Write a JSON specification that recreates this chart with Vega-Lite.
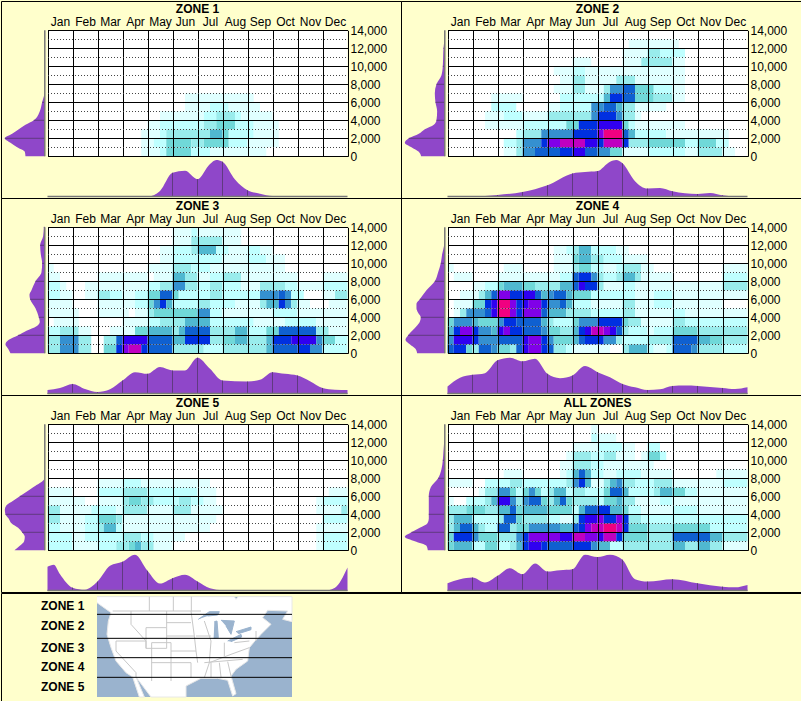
{"$schema":"https://vega.github.io/schema/vega-lite/v6.json","background":"#FFFFCC","padding":0,"spacing":-2,"config":{"view":{"stroke":"#000","strokeWidth":1},"font":"Liberation Sans","axis":{"labelFont":"Liberation Sans","labelFontSize":12,"labelColor":"#000"},"header":{"labels":false,"title":null,"labelFontSize":0,"labelPadding":0,"titlePadding":0,"labelExpr":"''"},"facet":{"spacing":0}},
"datasets":{"zones":[
{"z":1,"t":"ZONE 1"},{"z":2,"t":"ZONE 2"},{"z":3,"t":"ZONE 3"},{"z":4,"t":"ZONE 4"},{"z":5,"t":"ZONE 5"},{"z":6,"t":"ALL ZONES"},
{"z":1,"a":3.75,"b":4.5,"c":500,"v":1},{"z":1,"a":4.5,"b":4.75,"c":500,"v":2},{"z":1,"a":4.75,"b":5.75,"c":500,"v":4},{"z":1,"a":5.75,"b":6.5,"c":500,"v":2},{"z":1,"a":6.5,"b":8.75,"c":500,"v":1},
{"z":1,"a":3.75,"b":4.25,"c":1500,"v":1},{"z":1,"a":4.25,"b":4.75,"c":1500,"v":2},{"z":1,"a":4.75,"b":5.75,"c":1500,"v":4},{"z":1,"a":5.75,"b":6.25,"c":1500,"v":3},{"z":1,"a":6.25,"b":7.25,"c":1500,"v":4},{"z":1,"a":7.25,"b":8,"c":1500,"v":2},{"z":1,"a":8,"b":9.25,"c":1500,"v":1},
{"z":1,"a":3.75,"b":4.5,"c":2500,"v":1},{"z":1,"a":4.5,"b":4.75,"c":2500,"v":2},{"z":1,"a":4.75,"b":6.5,"c":2500,"v":3},{"z":1,"a":6.5,"b":7,"c":2500,"v":5},{"z":1,"a":7,"b":7.25,"c":2500,"v":4},{"z":1,"a":7.25,"b":8.25,"c":2500,"v":2},{"z":1,"a":8.25,"b":9.25,"c":2500,"v":1},
{"z":1,"a":4,"b":4.5,"c":3500,"v":1},{"z":1,"a":4.5,"b":6.25,"c":3500,"v":2},{"z":1,"a":6.25,"b":6.75,"c":3500,"v":3},{"z":1,"a":6.75,"b":7.5,"c":3500,"v":4},{"z":1,"a":7.5,"b":8.25,"c":3500,"v":2},{"z":1,"a":8.25,"b":9.25,"c":3500,"v":1},
{"z":1,"a":4.5,"b":6.25,"c":4500,"v":1},{"z":1,"a":6.25,"b":6.75,"c":4500,"v":2},{"z":1,"a":6.75,"b":7.5,"c":4500,"v":3},{"z":1,"a":7.5,"b":7.75,"c":4500,"v":2},{"z":1,"a":7.75,"b":9,"c":4500,"v":1},
{"z":1,"a":5.5,"b":6.5,"c":5500,"v":1},{"z":1,"a":6.5,"b":7.25,"c":5500,"v":2},{"z":1,"a":7.25,"b":8.5,"c":5500,"v":1},{"z":1,"a":5.5,"b":8.25,"c":6500,"v":1},
{"z":2,"a":2.25,"b":2.75,"c":500,"v":1},{"z":2,"a":2.75,"b":3,"c":500,"v":3},{"z":2,"a":3,"b":3.5,"c":500,"v":6},{"z":2,"a":3.5,"b":4.5,"c":500,"v":7},{"z":2,"a":4.5,"b":5,"c":500,"v":8},{"z":2,"a":5,"b":5.5,"c":500,"v":9},{"z":2,"a":5.5,"b":6,"c":500,"v":7},{"z":2,"a":6,"b":6.5,"c":500,"v":6},{"z":2,"a":6.5,"b":7,"c":500,"v":4},{"z":2,"a":7,"b":8,"c":500,"v":1},{"z":2,"a":8,"b":9.5,"c":500,"v":2},{"z":2,"a":9.5,"b":10,"c":500,"v":1},{"z":2,"a":10,"b":11,"c":500,"v":3},{"z":2,"a":11,"b":11.5,"c":500,"v":1},
{"z":2,"a":2.25,"b":2.75,"c":1500,"v":2},{"z":2,"a":2.75,"b":3,"c":1500,"v":3},{"z":2,"a":3,"b":3.75,"c":1500,"v":6},{"z":2,"a":3.75,"b":4,"c":1500,"v":8},{"z":2,"a":4,"b":4.5,"c":1500,"v":10},{"z":2,"a":4.5,"b":5.5,"c":1500,"v":11},{"z":2,"a":5.5,"b":6,"c":1500,"v":9},{"z":2,"a":6,"b":6.25,"c":1500,"v":8},{"z":2,"a":6.25,"b":7,"c":1500,"v":11},{"z":2,"a":7,"b":7.25,"c":1500,"v":8},{"z":2,"a":7.25,"b":8,"c":1500,"v":3},{"z":2,"a":8,"b":9.5,"c":1500,"v":4},{"z":2,"a":9.5,"b":10,"c":1500,"v":2},{"z":2,"a":10,"b":10.75,"c":1500,"v":4},{"z":2,"a":10.75,"b":11.25,"c":1500,"v":2},
{"z":2,"a":2.75,"b":3,"c":2500,"v":2},{"z":2,"a":3,"b":3.75,"c":2500,"v":3},{"z":2,"a":3.75,"b":5,"c":2500,"v":6},{"z":2,"a":5,"b":6,"c":2500,"v":8},{"z":2,"a":6,"b":6.25,"c":2500,"v":10},{"z":2,"a":6.25,"b":7,"c":2500,"v":12},{"z":2,"a":7,"b":7.25,"c":2500,"v":7},{"z":2,"a":7.25,"b":7.5,"c":2500,"v":5},{"z":2,"a":7.5,"b":8.75,"c":2500,"v":2},{"z":2,"a":8.75,"b":11.25,"c":2500,"v":1},
{"z":2,"a":1.5,"b":3,"c":3500,"v":1},{"z":2,"a":3,"b":4.75,"c":3500,"v":2},{"z":2,"a":4.75,"b":5.25,"c":3500,"v":4},{"z":2,"a":5.25,"b":6,"c":3500,"v":8},{"z":2,"a":6,"b":7,"c":3500,"v":9},{"z":2,"a":7,"b":7.25,"c":3500,"v":4},{"z":2,"a":7.25,"b":7.5,"c":3500,"v":2},{"z":2,"a":7.5,"b":9.5,"c":3500,"v":1},
{"z":2,"a":1.5,"b":2.25,"c":4500,"v":1},{"z":2,"a":2.25,"b":3,"c":4500,"v":2},{"z":2,"a":3,"b":4,"c":4500,"v":1},{"z":2,"a":4,"b":5.75,"c":4500,"v":3},{"z":2,"a":5.75,"b":6,"c":4500,"v":6},{"z":2,"a":6,"b":6.75,"c":4500,"v":8},{"z":2,"a":6.75,"b":7,"c":4500,"v":6},{"z":2,"a":7,"b":7.5,"c":4500,"v":3},{"z":2,"a":7.5,"b":7.75,"c":4500,"v":1},
{"z":2,"a":1.75,"b":2.75,"c":5500,"v":2},{"z":2,"a":4,"b":4.5,"c":5500,"v":1},{"z":2,"a":4.5,"b":5.75,"c":5500,"v":2},{"z":2,"a":5.75,"b":6.25,"c":5500,"v":6},{"z":2,"a":6.25,"b":6.75,"c":5500,"v":7},{"z":2,"a":6.75,"b":7,"c":5500,"v":5},{"z":2,"a":7,"b":7.5,"c":5500,"v":3},{"z":2,"a":7.5,"b":8.75,"c":5500,"v":1},
{"z":2,"a":1.75,"b":3,"c":6500,"v":1},{"z":2,"a":4.5,"b":6.25,"c":6500,"v":2},{"z":2,"a":6.25,"b":6.5,"c":6500,"v":5},{"z":2,"a":6.5,"b":7,"c":6500,"v":8},{"z":2,"a":7,"b":7.5,"c":6500,"v":7},{"z":2,"a":7.5,"b":8.25,"c":6500,"v":4},{"z":2,"a":8.25,"b":9,"c":6500,"v":3},{"z":2,"a":9,"b":9.5,"c":6500,"v":1},
{"z":2,"a":4.25,"b":5,"c":7500,"v":1},{"z":2,"a":5,"b":5.5,"c":7500,"v":3},{"z":2,"a":5.5,"b":6.25,"c":7500,"v":1},{"z":2,"a":6.25,"b":6.5,"c":7500,"v":3},{"z":2,"a":6.5,"b":7,"c":7500,"v":6},{"z":2,"a":7,"b":7.5,"c":7500,"v":7},{"z":2,"a":7.5,"b":8.25,"c":7500,"v":4},{"z":2,"a":8.25,"b":9,"c":7500,"v":2},{"z":2,"a":9,"b":9.5,"c":7500,"v":1},
{"z":2,"a":4.5,"b":5,"c":8500,"v":1},{"z":2,"a":5,"b":5.5,"c":8500,"v":3},{"z":2,"a":5.5,"b":6.75,"c":8500,"v":1},{"z":2,"a":6.75,"b":7.5,"c":8500,"v":3},{"z":2,"a":7.5,"b":9.5,"c":8500,"v":1},
{"z":2,"a":4.25,"b":5,"c":9500,"v":1},{"z":2,"a":5,"b":5.5,"c":9500,"v":2},{"z":2,"a":5.5,"b":9.5,"c":9500,"v":1},
{"z":2,"a":5,"b":5.75,"c":10500,"v":1},{"z":2,"a":7,"b":7.75,"c":10500,"v":1},{"z":2,"a":7.75,"b":9,"c":10500,"v":3},{"z":2,"a":9,"b":9.5,"c":10500,"v":1},
{"z":2,"a":7,"b":8,"c":11500,"v":1},{"z":2,"a":8,"b":8.5,"c":11500,"v":3},{"z":2,"a":8.5,"b":9.5,"c":11500,"v":2},{"z":2,"a":7.25,"b":9.25,"c":12500,"v":1},
{"z":3,"a":0,"b":0.5,"c":500,"v":3},{"z":3,"a":0.5,"b":1.25,"c":500,"v":6},{"z":3,"a":1.25,"b":1.75,"c":500,"v":3},{"z":3,"a":2.25,"b":2.75,"c":500,"v":4},{"z":3,"a":2.75,"b":3,"c":500,"v":8},{"z":3,"a":3,"b":3.25,"c":500,"v":10},{"z":3,"a":3.25,"b":3.75,"c":500,"v":11},{"z":3,"a":3.75,"b":4,"c":500,"v":8},{"z":3,"a":4,"b":5,"c":500,"v":7},{"z":3,"a":5,"b":6.25,"c":500,"v":3},{"z":3,"a":6.25,"b":7,"c":500,"v":2},{"z":3,"a":7,"b":8.75,"c":500,"v":3},{"z":3,"a":8.75,"b":9,"c":500,"v":5},{"z":3,"a":9,"b":10,"c":500,"v":7},{"z":3,"a":10,"b":10.5,"c":500,"v":8},{"z":3,"a":10.5,"b":11,"c":500,"v":6},{"z":3,"a":11,"b":12,"c":500,"v":2},
{"z":3,"a":0,"b":0.5,"c":1500,"v":3},{"z":3,"a":0.5,"b":1.25,"c":1500,"v":6},{"z":3,"a":1.25,"b":1.75,"c":1500,"v":3},{"z":3,"a":2.25,"b":2.75,"c":1500,"v":3},{"z":3,"a":2.75,"b":3,"c":1500,"v":7},{"z":3,"a":3,"b":4,"c":1500,"v":9},{"z":3,"a":4,"b":5,"c":1500,"v":7},{"z":3,"a":5,"b":5.5,"c":1500,"v":5},{"z":3,"a":5.5,"b":6.5,"c":1500,"v":8},{"z":3,"a":6.5,"b":7,"c":1500,"v":3},{"z":3,"a":7,"b":7.5,"c":1500,"v":4},{"z":3,"a":7.5,"b":8,"c":1500,"v":5},{"z":3,"a":8,"b":8.75,"c":1500,"v":3},{"z":3,"a":8.75,"b":9,"c":1500,"v":5},{"z":3,"a":9,"b":9.75,"c":1500,"v":8},{"z":3,"a":9.75,"b":10.75,"c":1500,"v":9},{"z":3,"a":10.75,"b":11,"c":1500,"v":6},{"z":3,"a":11,"b":11.5,"c":1500,"v":4},{"z":3,"a":11.5,"b":12,"c":1500,"v":2},
{"z":3,"a":0,"b":0.5,"c":2500,"v":2},{"z":3,"a":0.5,"b":1.25,"c":2500,"v":3},{"z":3,"a":1.25,"b":1.75,"c":2500,"v":1},{"z":3,"a":2.5,"b":3.5,"c":2500,"v":1},{"z":3,"a":3.5,"b":4,"c":2500,"v":4},{"z":3,"a":4,"b":5,"c":2500,"v":5},{"z":3,"a":5,"b":5.25,"c":2500,"v":3},{"z":3,"a":5.25,"b":5.5,"c":2500,"v":5},{"z":3,"a":5.5,"b":6.5,"c":2500,"v":7},{"z":3,"a":6.5,"b":7.5,"c":2500,"v":3},{"z":3,"a":7.5,"b":8,"c":2500,"v":5},{"z":3,"a":8,"b":8.75,"c":2500,"v":2},{"z":3,"a":8.75,"b":9.25,"c":2500,"v":4},{"z":3,"a":9.25,"b":10.75,"c":2500,"v":7},{"z":3,"a":10.75,"b":11.25,"c":2500,"v":3},{"z":3,"a":11.25,"b":12,"c":2500,"v":1},
{"z":3,"a":0.25,"b":1.25,"c":3500,"v":1},{"z":3,"a":3,"b":4,"c":3500,"v":1},{"z":3,"a":4,"b":4.5,"c":3500,"v":2},{"z":3,"a":4.5,"b":5.5,"c":3500,"v":3},{"z":3,"a":5.5,"b":6.5,"c":3500,"v":5},{"z":3,"a":6.5,"b":8.25,"c":3500,"v":2},{"z":3,"a":8.25,"b":9.5,"c":3500,"v":1},{"z":3,"a":9.5,"b":10.75,"c":3500,"v":2},{"z":3,"a":10.75,"b":12,"c":3500,"v":1},
{"z":3,"a":0,"b":1.25,"c":4500,"v":1},{"z":3,"a":2,"b":3.25,"c":4500,"v":1},{"z":3,"a":3.5,"b":4,"c":4500,"v":1},{"z":3,"a":4,"b":4.25,"c":4500,"v":3},{"z":3,"a":4.25,"b":6,"c":4500,"v":4},{"z":3,"a":6,"b":6.5,"c":4500,"v":6},{"z":3,"a":6.5,"b":7,"c":4500,"v":2},{"z":3,"a":7,"b":9,"c":4500,"v":1},{"z":3,"a":9,"b":10,"c":4500,"v":2},{"z":3,"a":10,"b":12,"c":4500,"v":1},
{"z":3,"a":0,"b":1,"c":5500,"v":1},{"z":3,"a":2,"b":3.5,"c":5500,"v":1},{"z":3,"a":3.5,"b":4,"c":5500,"v":2},{"z":3,"a":4,"b":4.25,"c":5500,"v":4},{"z":3,"a":4.25,"b":4.5,"c":5500,"v":6},{"z":3,"a":4.5,"b":4.75,"c":5500,"v":8},{"z":3,"a":4.75,"b":5,"c":5500,"v":5},{"z":3,"a":5,"b":6,"c":5500,"v":2},{"z":3,"a":6,"b":6.5,"c":5500,"v":3},{"z":3,"a":6.5,"b":7.5,"c":5500,"v":2},{"z":3,"a":7.5,"b":8.5,"c":5500,"v":1},{"z":3,"a":8.5,"b":8.75,"c":5500,"v":3},{"z":3,"a":8.75,"b":9.25,"c":5500,"v":5},{"z":3,"a":9.25,"b":9.5,"c":5500,"v":8},{"z":3,"a":9.5,"b":9.75,"c":5500,"v":6},{"z":3,"a":9.75,"b":10,"c":5500,"v":3},{"z":3,"a":10,"b":10.5,"c":5500,"v":1},{"z":3,"a":11.25,"b":12,"c":5500,"v":1},
{"z":3,"a":0,"b":0.5,"c":6500,"v":2},{"z":3,"a":0.5,"b":1,"c":6500,"v":1},{"z":3,"a":1.5,"b":2,"c":6500,"v":1},{"z":3,"a":2,"b":2.5,"c":6500,"v":3},{"z":3,"a":2.5,"b":3,"c":6500,"v":2},{"z":3,"a":3,"b":3.5,"c":6500,"v":1},{"z":3,"a":3.5,"b":4,"c":6500,"v":2},{"z":3,"a":4,"b":4.5,"c":6500,"v":4},{"z":3,"a":4.5,"b":5,"c":6500,"v":7},{"z":3,"a":5,"b":5.25,"c":6500,"v":4},{"z":3,"a":5.25,"b":6.5,"c":6500,"v":2},{"z":3,"a":6.5,"b":7,"c":6500,"v":3},{"z":3,"a":7,"b":8.5,"c":6500,"v":2},{"z":3,"a":8.5,"b":9.25,"c":6500,"v":6},{"z":3,"a":9.25,"b":9.5,"c":6500,"v":7},{"z":3,"a":9.5,"b":9.75,"c":6500,"v":6},{"z":3,"a":9.75,"b":10.25,"c":6500,"v":2},{"z":3,"a":11,"b":11.5,"c":6500,"v":1},{"z":3,"a":11.5,"b":12,"c":6500,"v":3},
{"z":3,"a":0,"b":0.5,"c":7500,"v":2},{"z":3,"a":0.5,"b":0.75,"c":7500,"v":1},{"z":3,"a":1.5,"b":4,"c":7500,"v":1},{"z":3,"a":4,"b":4.5,"c":7500,"v":2},{"z":3,"a":4.5,"b":5,"c":7500,"v":3},{"z":3,"a":5,"b":5.5,"c":7500,"v":6},{"z":3,"a":5.5,"b":6,"c":7500,"v":3},{"z":3,"a":6,"b":6.5,"c":7500,"v":2},{"z":3,"a":6.5,"b":7,"c":7500,"v":3},{"z":3,"a":7,"b":7.75,"c":7500,"v":2},{"z":3,"a":7.75,"b":8.5,"c":7500,"v":1},{"z":3,"a":8.5,"b":9.5,"c":7500,"v":3},{"z":3,"a":9.5,"b":10,"c":7500,"v":2},{"z":3,"a":10,"b":11,"c":7500,"v":1},{"z":3,"a":11,"b":12,"c":7500,"v":2},
{"z":3,"a":0,"b":0.5,"c":8500,"v":1},{"z":3,"a":2,"b":4,"c":8500,"v":1},{"z":3,"a":4.25,"b":5,"c":8500,"v":1},{"z":3,"a":5,"b":5.5,"c":8500,"v":5},{"z":3,"a":5.5,"b":6,"c":8500,"v":3},{"z":3,"a":6,"b":6.5,"c":8500,"v":1},{"z":3,"a":6.5,"b":7,"c":8500,"v":2},{"z":3,"a":7,"b":7.75,"c":8500,"v":3},{"z":3,"a":7.75,"b":10,"c":8500,"v":1},{"z":3,"a":11,"b":12,"c":8500,"v":1},
{"z":3,"a":0,"b":0.25,"c":9500,"v":1},{"z":3,"a":4,"b":5,"c":9500,"v":1},{"z":3,"a":5,"b":5.75,"c":9500,"v":3},{"z":3,"a":5.75,"b":6.5,"c":9500,"v":2},{"z":3,"a":6.5,"b":9.5,"c":9500,"v":1},
{"z":3,"a":4.5,"b":5,"c":10500,"v":1},{"z":3,"a":5,"b":7,"c":10500,"v":2},{"z":3,"a":7,"b":8,"c":10500,"v":1},{"z":3,"a":8,"b":8.75,"c":10500,"v":2},{"z":3,"a":8.75,"b":9.5,"c":10500,"v":1},
{"z":3,"a":4.5,"b":5,"c":11500,"v":1},{"z":3,"a":5,"b":5.75,"c":11500,"v":2},{"z":3,"a":5.75,"b":6,"c":11500,"v":3},{"z":3,"a":6,"b":6.75,"c":11500,"v":5},{"z":3,"a":6.75,"b":7.25,"c":11500,"v":2},{"z":3,"a":7.25,"b":8,"c":11500,"v":1},{"z":3,"a":8,"b":8.5,"c":11500,"v":2},{"z":3,"a":8.5,"b":9,"c":11500,"v":1},
{"z":3,"a":5,"b":5.75,"c":12500,"v":1},{"z":3,"a":5.75,"b":7,"c":12500,"v":3},{"z":3,"a":7,"b":7.75,"c":12500,"v":1},
{"z":3,"a":5,"b":5.75,"c":13500,"v":1},{"z":3,"a":5.75,"b":6,"c":13500,"v":2},{"z":3,"a":6,"b":7.75,"c":13500,"v":1},
{"z":4,"a":0,"b":0.25,"c":500,"v":7},{"z":4,"a":0.25,"b":0.75,"c":500,"v":8},{"z":4,"a":0.75,"b":1,"c":500,"v":4},{"z":4,"a":1,"b":1.25,"c":500,"v":3},{"z":4,"a":1.25,"b":1.75,"c":500,"v":7},{"z":4,"a":1.75,"b":2,"c":500,"v":6},{"z":4,"a":2,"b":2.5,"c":500,"v":4},{"z":4,"a":2.5,"b":2.75,"c":500,"v":3},{"z":4,"a":2.75,"b":3,"c":500,"v":7},{"z":4,"a":3,"b":3.25,"c":500,"v":9},{"z":4,"a":3.25,"b":3.75,"c":500,"v":10},{"z":4,"a":3.75,"b":4,"c":500,"v":8},{"z":4,"a":4,"b":4.25,"c":500,"v":7},{"z":4,"a":4.25,"b":4.75,"c":500,"v":3},{"z":4,"a":4.75,"b":5,"c":500,"v":2},{"z":4,"a":5,"b":6.5,"c":500,"v":1},{"z":4,"a":7,"b":7.25,"c":500,"v":3},{"z":4,"a":7.25,"b":8,"c":500,"v":5},{"z":4,"a":8,"b":8.25,"c":500,"v":2},{"z":4,"a":8.25,"b":8.75,"c":500,"v":1},{"z":4,"a":8.75,"b":9,"c":500,"v":2},{"z":4,"a":9,"b":9.75,"c":500,"v":7},{"z":4,"a":9.75,"b":10,"c":500,"v":6},{"z":4,"a":10,"b":11,"c":500,"v":3},{"z":4,"a":11,"b":12,"c":500,"v":2},
{"z":4,"a":0,"b":0.25,"c":1500,"v":6},{"z":4,"a":0.25,"b":1,"c":1500,"v":9},{"z":4,"a":1,"b":1.25,"c":1500,"v":8},{"z":4,"a":1.25,"b":2,"c":1500,"v":6},{"z":4,"a":2,"b":3,"c":1500,"v":7},{"z":4,"a":3,"b":3.25,"c":1500,"v":9},{"z":4,"a":3.25,"b":3.75,"c":1500,"v":10},{"z":4,"a":3.75,"b":4,"c":1500,"v":8},{"z":4,"a":4,"b":4.25,"c":1500,"v":6},{"z":4,"a":4.25,"b":5,"c":1500,"v":4},{"z":4,"a":5,"b":5.25,"c":1500,"v":5},{"z":4,"a":5.25,"b":5.5,"c":1500,"v":7},{"z":4,"a":5.5,"b":6.25,"c":1500,"v":8},{"z":4,"a":6.25,"b":6.75,"c":1500,"v":6},{"z":4,"a":6.75,"b":7,"c":1500,"v":3},{"z":4,"a":7,"b":8,"c":1500,"v":2},{"z":4,"a":8,"b":9,"c":1500,"v":3},{"z":4,"a":9,"b":10,"c":1500,"v":7},{"z":4,"a":10,"b":10.5,"c":1500,"v":5},{"z":4,"a":10.5,"b":11,"c":1500,"v":4},{"z":4,"a":11,"b":12,"c":1500,"v":3},
{"z":4,"a":0,"b":0.25,"c":2500,"v":5},{"z":4,"a":0.25,"b":0.5,"c":2500,"v":8},{"z":4,"a":0.5,"b":1,"c":2500,"v":10},{"z":4,"a":1,"b":1.25,"c":2500,"v":8},{"z":4,"a":1.25,"b":1.75,"c":2500,"v":6},{"z":4,"a":1.75,"b":2,"c":2500,"v":5},{"z":4,"a":2,"b":2.25,"c":2500,"v":9},{"z":4,"a":2.25,"b":2.5,"c":2500,"v":10},{"z":4,"a":2.5,"b":3,"c":2500,"v":8},{"z":4,"a":3,"b":3.75,"c":2500,"v":7},{"z":4,"a":3.75,"b":4,"c":2500,"v":6},{"z":4,"a":4,"b":4.5,"c":2500,"v":4},{"z":4,"a":4.5,"b":5,"c":2500,"v":3},{"z":4,"a":5,"b":5.25,"c":2500,"v":5},{"z":4,"a":5.25,"b":5.5,"c":2500,"v":8},{"z":4,"a":5.5,"b":5.75,"c":2500,"v":9},{"z":4,"a":5.75,"b":6.25,"c":2500,"v":11},{"z":4,"a":6.25,"b":6.5,"c":2500,"v":10},{"z":4,"a":6.5,"b":6.75,"c":2500,"v":9},{"z":4,"a":6.75,"b":7,"c":2500,"v":7},{"z":4,"a":7,"b":7.25,"c":2500,"v":3},{"z":4,"a":7.25,"b":8,"c":2500,"v":2},{"z":4,"a":8,"b":8.25,"c":2500,"v":1},{"z":4,"a":8.25,"b":9,"c":2500,"v":2},{"z":4,"a":9,"b":10,"c":2500,"v":4},{"z":4,"a":10,"b":12,"c":2500,"v":3},
{"z":4,"a":0,"b":0.25,"c":3500,"v":4},{"z":4,"a":0.25,"b":1,"c":3500,"v":6},{"z":4,"a":1,"b":1.25,"c":3500,"v":5},{"z":4,"a":1.25,"b":2,"c":3500,"v":4},{"z":4,"a":2,"b":2.25,"c":3500,"v":6},{"z":4,"a":2.25,"b":2.75,"c":3500,"v":8},{"z":4,"a":2.75,"b":3.75,"c":3500,"v":7},{"z":4,"a":3.75,"b":4,"c":3500,"v":5},{"z":4,"a":4,"b":4.25,"c":3500,"v":3},{"z":4,"a":4.25,"b":5,"c":3500,"v":2},{"z":4,"a":5,"b":5.25,"c":3500,"v":4},{"z":4,"a":5.25,"b":6,"c":3500,"v":6},{"z":4,"a":6,"b":7,"c":3500,"v":8},{"z":4,"a":7,"b":7.25,"c":3500,"v":4},{"z":4,"a":7.25,"b":7.75,"c":3500,"v":3},{"z":4,"a":7.75,"b":9,"c":3500,"v":1},{"z":4,"a":9,"b":9.5,"c":3500,"v":3},{"z":4,"a":9.5,"b":12,"c":3500,"v":2},
{"z":4,"a":0.25,"b":0.5,"c":4500,"v":1},{"z":4,"a":0.5,"b":0.75,"c":4500,"v":3},{"z":4,"a":0.75,"b":1.5,"c":4500,"v":6},{"z":4,"a":1.5,"b":1.75,"c":4500,"v":7},{"z":4,"a":1.75,"b":2,"c":4500,"v":9},{"z":4,"a":2,"b":2.5,"c":4500,"v":12},{"z":4,"a":2.5,"b":2.75,"c":4500,"v":10},{"z":4,"a":2.75,"b":3,"c":4500,"v":8},{"z":4,"a":3,"b":3.75,"c":4500,"v":10},{"z":4,"a":3.75,"b":4,"c":4500,"v":7},{"z":4,"a":4,"b":4.75,"c":4500,"v":5},{"z":4,"a":4.75,"b":5.75,"c":4500,"v":3},{"z":4,"a":5.75,"b":7,"c":4500,"v":2},{"z":4,"a":7,"b":7.5,"c":4500,"v":3},{"z":4,"a":7.5,"b":9,"c":4500,"v":1},{"z":4,"a":9,"b":9.5,"c":4500,"v":2},{"z":4,"a":9.5,"b":12,"c":4500,"v":1},
{"z":4,"a":0.25,"b":1,"c":5500,"v":1},{"z":4,"a":1,"b":1.5,"c":5500,"v":4},{"z":4,"a":1.5,"b":1.75,"c":5500,"v":8},{"z":4,"a":1.75,"b":2,"c":5500,"v":9},{"z":4,"a":2,"b":2.5,"c":5500,"v":12},{"z":4,"a":2.5,"b":2.75,"c":5500,"v":10},{"z":4,"a":2.75,"b":3,"c":5500,"v":8},{"z":4,"a":3,"b":3.25,"c":5500,"v":9},{"z":4,"a":3.25,"b":3.75,"c":5500,"v":10},{"z":4,"a":3.75,"b":4,"c":5500,"v":8},{"z":4,"a":4,"b":4.5,"c":5500,"v":6},{"z":4,"a":4.5,"b":4.75,"c":5500,"v":7},{"z":4,"a":4.75,"b":5,"c":5500,"v":5},{"z":4,"a":5,"b":5.75,"c":5500,"v":2},{"z":4,"a":5.75,"b":7,"c":5500,"v":1},{"z":4,"a":7,"b":7.5,"c":5500,"v":3},{"z":4,"a":7.5,"b":8.25,"c":5500,"v":1},{"z":4,"a":8.25,"b":9,"c":5500,"v":2},{"z":4,"a":9,"b":11,"c":5500,"v":1},
{"z":4,"a":0.5,"b":1.25,"c":6500,"v":1},{"z":4,"a":1.25,"b":1.5,"c":6500,"v":3},{"z":4,"a":1.5,"b":1.75,"c":6500,"v":5},{"z":4,"a":1.75,"b":2,"c":6500,"v":7},{"z":4,"a":2,"b":2.5,"c":6500,"v":10},{"z":4,"a":2.5,"b":3,"c":6500,"v":8},{"z":4,"a":3,"b":3.5,"c":6500,"v":9},{"z":4,"a":3.5,"b":3.75,"c":6500,"v":7},{"z":4,"a":3.75,"b":4,"c":6500,"v":5},{"z":4,"a":4,"b":4.25,"c":6500,"v":6},{"z":4,"a":4.25,"b":4.75,"c":6500,"v":7},{"z":4,"a":4.75,"b":5,"c":6500,"v":5},{"z":4,"a":5,"b":5.75,"c":6500,"v":4},{"z":4,"a":5.75,"b":7.5,"c":6500,"v":2},{"z":4,"a":7.5,"b":8.25,"c":6500,"v":1},{"z":4,"a":8.25,"b":9,"c":6500,"v":2},{"z":4,"a":9,"b":12,"c":6500,"v":1},
{"z":4,"a":1,"b":1.5,"c":7500,"v":1},{"z":4,"a":1.5,"b":2,"c":7500,"v":2},{"z":4,"a":2,"b":2.25,"c":7500,"v":4},{"z":4,"a":2.25,"b":3,"c":7500,"v":5},{"z":4,"a":3,"b":3.5,"c":7500,"v":4},{"z":4,"a":3.5,"b":4.5,"c":7500,"v":3},{"z":4,"a":4.5,"b":5,"c":7500,"v":5},{"z":4,"a":5,"b":5.25,"c":7500,"v":7},{"z":4,"a":5.25,"b":5.5,"c":7500,"v":9},{"z":4,"a":5.5,"b":6,"c":7500,"v":8},{"z":4,"a":6,"b":6.25,"c":7500,"v":3},{"z":4,"a":6.25,"b":7,"c":7500,"v":1},{"z":4,"a":7,"b":7.5,"c":7500,"v":2},{"z":4,"a":7.5,"b":11,"c":7500,"v":1},{"z":4,"a":11,"b":12,"c":7500,"v":3},
{"z":4,"a":0.25,"b":1,"c":8500,"v":1},{"z":4,"a":2,"b":4.5,"c":8500,"v":1},{"z":4,"a":4.5,"b":5,"c":8500,"v":2},{"z":4,"a":5,"b":5.25,"c":8500,"v":7},{"z":4,"a":5.25,"b":5.75,"c":8500,"v":8},{"z":4,"a":5.75,"b":6,"c":8500,"v":6},{"z":4,"a":6,"b":6.25,"c":8500,"v":3},{"z":4,"a":6.25,"b":6.75,"c":8500,"v":2},{"z":4,"a":6.75,"b":7,"c":8500,"v":3},{"z":4,"a":7,"b":7.5,"c":8500,"v":5},{"z":4,"a":7.5,"b":7.75,"c":8500,"v":3},{"z":4,"a":7.75,"b":9,"c":8500,"v":1},{"z":4,"a":11,"b":12,"c":8500,"v":2},
{"z":4,"a":0,"b":0.25,"c":9500,"v":1},{"z":4,"a":2.25,"b":3,"c":9500,"v":1},{"z":4,"a":4.25,"b":5,"c":9500,"v":1},{"z":4,"a":5,"b":5.25,"c":9500,"v":3},{"z":4,"a":5.25,"b":5.75,"c":9500,"v":4},{"z":4,"a":5.75,"b":6.25,"c":9500,"v":2},{"z":4,"a":6.25,"b":6.75,"c":9500,"v":1},{"z":4,"a":6.75,"b":7,"c":9500,"v":2},{"z":4,"a":7,"b":7.75,"c":9500,"v":3},{"z":4,"a":7.75,"b":8.25,"c":9500,"v":1},{"z":4,"a":11,"b":12,"c":9500,"v":1},
{"z":4,"a":4.25,"b":5,"c":10500,"v":1},{"z":4,"a":5,"b":5.25,"c":10500,"v":4},{"z":4,"a":5.25,"b":5.75,"c":10500,"v":5},{"z":4,"a":5.75,"b":6.25,"c":10500,"v":3},{"z":4,"a":6.25,"b":7,"c":10500,"v":2},{"z":4,"a":7,"b":8,"c":10500,"v":1},
{"z":4,"a":4.25,"b":4.75,"c":11500,"v":1},{"z":4,"a":4.75,"b":5,"c":11500,"v":2},{"z":4,"a":5,"b":5.25,"c":11500,"v":3},{"z":4,"a":5.25,"b":5.75,"c":11500,"v":5},{"z":4,"a":5.75,"b":6.75,"c":11500,"v":2},{"z":4,"a":6.75,"b":7.25,"c":11500,"v":1},
{"z":5,"a":0,"b":1,"c":500,"v":2},{"z":5,"a":1,"b":2,"c":500,"v":1},{"z":5,"a":2,"b":2.75,"c":500,"v":2},{"z":5,"a":2.75,"b":3.25,"c":500,"v":3},{"z":5,"a":3.25,"b":3.5,"c":500,"v":4},{"z":5,"a":3.5,"b":3.75,"c":500,"v":5},{"z":5,"a":3.75,"b":4.25,"c":500,"v":3},{"z":5,"a":4.25,"b":5,"c":500,"v":1},{"z":5,"a":10.75,"b":11,"c":500,"v":1},{"z":5,"a":11,"b":12,"c":500,"v":2},
{"z":5,"a":0,"b":1,"c":1500,"v":2},{"z":5,"a":1,"b":1.5,"c":1500,"v":1},{"z":5,"a":1.5,"b":3,"c":1500,"v":2},{"z":5,"a":3,"b":3.75,"c":1500,"v":3},{"z":5,"a":3.75,"b":4.25,"c":1500,"v":2},{"z":5,"a":4.25,"b":5.5,"c":1500,"v":1},{"z":5,"a":10.75,"b":11,"c":1500,"v":1},{"z":5,"a":11,"b":12,"c":1500,"v":2},
{"z":5,"a":0,"b":0.5,"c":2500,"v":2},{"z":5,"a":0.5,"b":1.5,"c":2500,"v":1},{"z":5,"a":1.5,"b":2,"c":2500,"v":2},{"z":5,"a":2,"b":2.25,"c":2500,"v":3},{"z":5,"a":2.25,"b":2.75,"c":2500,"v":5},{"z":5,"a":2.75,"b":3,"c":2500,"v":2},{"z":5,"a":3,"b":6.5,"c":2500,"v":1},{"z":5,"a":10.75,"b":12,"c":2500,"v":1},
{"z":5,"a":0,"b":0.5,"c":3500,"v":3},{"z":5,"a":0.5,"b":1.5,"c":3500,"v":1},{"z":5,"a":1.5,"b":2,"c":3500,"v":2},{"z":5,"a":2,"b":2.75,"c":3500,"v":4},{"z":5,"a":2.75,"b":3,"c":3500,"v":3},{"z":5,"a":3,"b":6.75,"c":3500,"v":1},{"z":5,"a":11,"b":12,"c":3500,"v":2},
{"z":5,"a":0,"b":0.5,"c":4500,"v":3},{"z":5,"a":0.5,"b":1.75,"c":4500,"v":1},{"z":5,"a":1.75,"b":2.75,"c":4500,"v":2},{"z":5,"a":2.75,"b":3,"c":4500,"v":1},{"z":5,"a":3,"b":4,"c":4500,"v":3},{"z":5,"a":4,"b":5,"c":4500,"v":1},{"z":5,"a":5,"b":5.75,"c":4500,"v":3},{"z":5,"a":5.75,"b":7,"c":4500,"v":1},{"z":5,"a":10.75,"b":11.75,"c":4500,"v":1},{"z":5,"a":11.75,"b":12,"c":4500,"v":3},
{"z":5,"a":0,"b":1.5,"c":5500,"v":1},{"z":5,"a":2,"b":3,"c":5500,"v":1},{"z":5,"a":3,"b":3.25,"c":5500,"v":3},{"z":5,"a":3.25,"b":3.75,"c":5500,"v":4},{"z":5,"a":3.75,"b":4.25,"c":5500,"v":3},{"z":5,"a":4.25,"b":5.25,"c":5500,"v":2},{"z":5,"a":5.25,"b":5.75,"c":5500,"v":3},{"z":5,"a":5.75,"b":6.25,"c":5500,"v":2},{"z":5,"a":6.25,"b":6.75,"c":5500,"v":1},{"z":5,"a":10.75,"b":11,"c":5500,"v":1},{"z":5,"a":11,"b":12,"c":5500,"v":2},
{"z":5,"a":0,"b":1,"c":6500,"v":1},{"z":5,"a":2,"b":3,"c":6500,"v":2},{"z":5,"a":3,"b":4,"c":6500,"v":3},{"z":5,"a":4,"b":6,"c":6500,"v":2},{"z":5,"a":6,"b":6.75,"c":6500,"v":1},{"z":5,"a":11.25,"b":12,"c":6500,"v":1},
{"z":5,"a":2,"b":3,"c":7500,"v":1},{"z":5,"a":3,"b":3.75,"c":7500,"v":2},{"z":5,"a":3.75,"b":6.5,"c":7500,"v":1},
{"z":6,"a":0,"b":0.25,"c":500,"v":4},{"z":6,"a":0.25,"b":1,"c":500,"v":5},{"z":6,"a":1,"b":1.5,"c":500,"v":2},{"z":6,"a":1.5,"b":2,"c":500,"v":4},{"z":6,"a":2,"b":2.5,"c":500,"v":2},{"z":6,"a":2.5,"b":2.75,"c":500,"v":3},{"z":6,"a":2.75,"b":3,"c":500,"v":5},{"z":6,"a":3,"b":3.25,"c":500,"v":8},{"z":6,"a":3.25,"b":3.75,"c":500,"v":9},{"z":6,"a":3.75,"b":4,"c":500,"v":8},{"z":6,"a":4,"b":5,"c":500,"v":7},{"z":6,"a":5,"b":5.75,"c":500,"v":8},{"z":6,"a":5.75,"b":6,"c":500,"v":6},{"z":6,"a":6,"b":6.5,"c":500,"v":5},{"z":6,"a":6.5,"b":7,"c":500,"v":2},{"z":6,"a":7,"b":9,"c":500,"v":3},{"z":6,"a":9,"b":9.5,"c":500,"v":5},{"z":6,"a":9.5,"b":10,"c":500,"v":3},{"z":6,"a":10,"b":10.5,"c":500,"v":5},{"z":6,"a":10.5,"b":11,"c":500,"v":3},{"z":6,"a":11,"b":12,"c":500,"v":1},
{"z":6,"a":0,"b":0.25,"c":1500,"v":4},{"z":6,"a":0.25,"b":1,"c":1500,"v":8},{"z":6,"a":1,"b":1.25,"c":1500,"v":6},{"z":6,"a":1.25,"b":2,"c":1500,"v":4},{"z":6,"a":2,"b":2.75,"c":1500,"v":3},{"z":6,"a":2.75,"b":3,"c":1500,"v":6},{"z":6,"a":3,"b":3.25,"c":1500,"v":8},{"z":6,"a":3.25,"b":4.5,"c":1500,"v":10},{"z":6,"a":4.5,"b":5,"c":1500,"v":9},{"z":6,"a":5,"b":5.5,"c":1500,"v":11},{"z":6,"a":5.5,"b":6,"c":1500,"v":10},{"z":6,"a":6,"b":6.25,"c":1500,"v":9},{"z":6,"a":6.25,"b":6.75,"c":1500,"v":11},{"z":6,"a":6.75,"b":7,"c":1500,"v":8},{"z":6,"a":7,"b":8,"c":1500,"v":4},{"z":6,"a":8,"b":9,"c":1500,"v":3},{"z":6,"a":9,"b":10.5,"c":1500,"v":7},{"z":6,"a":10.5,"b":11,"c":1500,"v":5},{"z":6,"a":11,"b":12,"c":1500,"v":3},
{"z":6,"a":0,"b":0.25,"c":2500,"v":3},{"z":6,"a":0.25,"b":0.5,"c":2500,"v":5},{"z":6,"a":0.5,"b":1,"c":2500,"v":7},{"z":6,"a":1,"b":1.25,"c":2500,"v":5},{"z":6,"a":1.25,"b":1.5,"c":2500,"v":3},{"z":6,"a":1.5,"b":2,"c":2500,"v":2},{"z":6,"a":2,"b":2.5,"c":2500,"v":7},{"z":6,"a":2.5,"b":2.75,"c":2500,"v":3},{"z":6,"a":2.75,"b":3.25,"c":2500,"v":4},{"z":6,"a":3.25,"b":4.5,"c":2500,"v":6},{"z":6,"a":4.5,"b":5,"c":2500,"v":5},{"z":6,"a":5,"b":5.25,"c":2500,"v":7},{"z":6,"a":5.25,"b":5.5,"c":2500,"v":8},{"z":6,"a":5.5,"b":5.75,"c":2500,"v":10},{"z":6,"a":5.75,"b":6.25,"c":2500,"v":11},{"z":6,"a":6.25,"b":6.75,"c":2500,"v":12},{"z":6,"a":6.75,"b":7,"c":2500,"v":11},{"z":6,"a":7,"b":7.25,"c":2500,"v":8},{"z":6,"a":7.25,"b":8,"c":2500,"v":4},{"z":6,"a":8,"b":9,"c":2500,"v":3},{"z":6,"a":9,"b":10.5,"c":2500,"v":4},{"z":6,"a":10.5,"b":12,"c":2500,"v":2},
{"z":6,"a":0,"b":0.25,"c":3500,"v":3},{"z":6,"a":0.25,"b":1,"c":3500,"v":5},{"z":6,"a":1,"b":2,"c":3500,"v":2},{"z":6,"a":2,"b":2.25,"c":3500,"v":3},{"z":6,"a":2.25,"b":2.75,"c":3500,"v":7},{"z":6,"a":2.75,"b":3,"c":3500,"v":4},{"z":6,"a":3,"b":4,"c":3500,"v":3},{"z":6,"a":4,"b":4.5,"c":3500,"v":2},{"z":6,"a":4.5,"b":5,"c":3500,"v":1},{"z":6,"a":5,"b":5.25,"c":3500,"v":3},{"z":6,"a":5.25,"b":5.5,"c":3500,"v":8},{"z":6,"a":5.5,"b":6,"c":3500,"v":9},{"z":6,"a":6,"b":6.25,"c":3500,"v":10},{"z":6,"a":6.25,"b":6.75,"c":3500,"v":8},{"z":6,"a":6.75,"b":7,"c":3500,"v":10},{"z":6,"a":7,"b":7.25,"c":3500,"v":8},{"z":6,"a":7.25,"b":7.75,"c":3500,"v":3},{"z":6,"a":7.75,"b":12,"c":3500,"v":2},
{"z":6,"a":0,"b":0.75,"c":4500,"v":3},{"z":6,"a":0.75,"b":1.5,"c":4500,"v":4},{"z":6,"a":1.5,"b":2,"c":4500,"v":3},{"z":6,"a":2,"b":2.5,"c":4500,"v":5},{"z":6,"a":2.5,"b":2.75,"c":4500,"v":7},{"z":6,"a":2.75,"b":3,"c":4500,"v":4},{"z":6,"a":3,"b":4,"c":4500,"v":5},{"z":6,"a":4,"b":5,"c":4500,"v":4},{"z":6,"a":5,"b":5.25,"c":4500,"v":2},{"z":6,"a":5.25,"b":5.5,"c":4500,"v":5},{"z":6,"a":5.5,"b":6,"c":4500,"v":7},{"z":6,"a":6,"b":6.5,"c":4500,"v":8},{"z":6,"a":6.5,"b":7,"c":4500,"v":5},{"z":6,"a":7,"b":7.25,"c":4500,"v":4},{"z":6,"a":7.25,"b":7.75,"c":4500,"v":2},{"z":6,"a":7.75,"b":9,"c":4500,"v":1},{"z":6,"a":9,"b":10,"c":4500,"v":2},{"z":6,"a":10,"b":12,"c":4500,"v":1},
{"z":6,"a":0,"b":0.25,"c":5500,"v":1},{"z":6,"a":0.75,"b":1.5,"c":5500,"v":2},{"z":6,"a":1.5,"b":1.75,"c":5500,"v":3},{"z":6,"a":1.75,"b":2,"c":5500,"v":5},{"z":6,"a":2,"b":2.5,"c":5500,"v":9},{"z":6,"a":2.5,"b":2.75,"c":5500,"v":6},{"z":6,"a":2.75,"b":3,"c":5500,"v":3},{"z":6,"a":3,"b":3.25,"c":5500,"v":6},{"z":6,"a":3.25,"b":3.75,"c":5500,"v":7},{"z":6,"a":3.75,"b":4,"c":5500,"v":4},{"z":6,"a":4,"b":4.25,"c":5500,"v":3},{"z":6,"a":4.25,"b":4.5,"c":5500,"v":5},{"z":6,"a":4.5,"b":4.75,"c":5500,"v":7},{"z":6,"a":4.75,"b":5,"c":5500,"v":4},{"z":6,"a":5,"b":6,"c":5500,"v":3},{"z":6,"a":6,"b":6.25,"c":5500,"v":2},{"z":6,"a":6.25,"b":6.75,"c":5500,"v":4},{"z":6,"a":6.75,"b":7,"c":5500,"v":5},{"z":6,"a":7,"b":7.5,"c":5500,"v":3},{"z":6,"a":7.5,"b":8.5,"c":5500,"v":1},{"z":6,"a":8.5,"b":9,"c":5500,"v":2},{"z":6,"a":9,"b":12,"c":5500,"v":1},
{"z":6,"a":1.25,"b":1.5,"c":6500,"v":1},{"z":6,"a":1.5,"b":2,"c":6500,"v":3},{"z":6,"a":2,"b":2.5,"c":6500,"v":6},{"z":6,"a":2.5,"b":2.75,"c":6500,"v":4},{"z":6,"a":2.75,"b":3,"c":6500,"v":2},{"z":6,"a":3,"b":3.25,"c":6500,"v":4},{"z":6,"a":3.25,"b":3.5,"c":6500,"v":6},{"z":6,"a":3.5,"b":3.75,"c":6500,"v":4},{"z":6,"a":3.75,"b":4,"c":6500,"v":2},{"z":6,"a":4,"b":4.25,"c":6500,"v":3},{"z":6,"a":4.25,"b":4.75,"c":6500,"v":5},{"z":6,"a":4.75,"b":5,"c":6500,"v":2},{"z":6,"a":5,"b":5.5,"c":6500,"v":3},{"z":6,"a":5.5,"b":6.25,"c":6500,"v":2},{"z":6,"a":6.25,"b":6.5,"c":6500,"v":4},{"z":6,"a":6.5,"b":7,"c":6500,"v":7},{"z":6,"a":7,"b":7.25,"c":6500,"v":5},{"z":6,"a":7.25,"b":8.25,"c":6500,"v":2},{"z":6,"a":8.25,"b":8.5,"c":6500,"v":3},{"z":6,"a":8.5,"b":9,"c":6500,"v":5},{"z":6,"a":9,"b":9.5,"c":6500,"v":4},{"z":6,"a":9.5,"b":10,"c":6500,"v":2},{"z":6,"a":10,"b":12,"c":6500,"v":1},
{"z":6,"a":0,"b":1,"c":7500,"v":1},{"z":6,"a":1.5,"b":2.5,"c":7500,"v":2},{"z":6,"a":2.5,"b":3,"c":7500,"v":3},{"z":6,"a":3,"b":4.75,"c":7500,"v":2},{"z":6,"a":4.75,"b":5,"c":7500,"v":3},{"z":6,"a":5,"b":5.25,"c":7500,"v":6},{"z":6,"a":5.25,"b":5.5,"c":7500,"v":8},{"z":6,"a":5.5,"b":5.75,"c":7500,"v":5},{"z":6,"a":5.75,"b":6.25,"c":7500,"v":1},{"z":6,"a":6.25,"b":6.5,"c":7500,"v":3},{"z":6,"a":6.5,"b":6.75,"c":7500,"v":5},{"z":6,"a":6.75,"b":7,"c":7500,"v":6},{"z":6,"a":7,"b":7.5,"c":7500,"v":3},{"z":6,"a":7.5,"b":8.25,"c":7500,"v":2},{"z":6,"a":8.25,"b":9,"c":7500,"v":3},{"z":6,"a":9,"b":11,"c":7500,"v":1},{"z":6,"a":11,"b":12,"c":7500,"v":2},
{"z":6,"a":2.25,"b":3,"c":8500,"v":1},{"z":6,"a":4.5,"b":4.75,"c":8500,"v":1},{"z":6,"a":4.75,"b":5,"c":8500,"v":2},{"z":6,"a":5,"b":5.25,"c":8500,"v":5},{"z":6,"a":5.25,"b":5.5,"c":8500,"v":7},{"z":6,"a":5.5,"b":5.75,"c":8500,"v":5},{"z":6,"a":5.75,"b":6.25,"c":8500,"v":2},{"z":6,"a":6.25,"b":6.75,"c":8500,"v":1},{"z":6,"a":6.75,"b":7.75,"c":8500,"v":2},{"z":6,"a":7.75,"b":9,"c":8500,"v":1},{"z":6,"a":10.75,"b":12,"c":8500,"v":1},
{"z":6,"a":4.5,"b":5,"c":9500,"v":1},{"z":6,"a":5,"b":5.75,"c":9500,"v":3},{"z":6,"a":5.75,"b":6.25,"c":9500,"v":2},{"z":6,"a":6.25,"b":8.25,"c":9500,"v":1},
{"z":6,"a":4.75,"b":5,"c":10500,"v":1},{"z":6,"a":5,"b":5.75,"c":10500,"v":3},{"z":6,"a":5.75,"b":6.25,"c":10500,"v":2},{"z":6,"a":6.25,"b":6.75,"c":10500,"v":3},{"z":6,"a":6.75,"b":7.5,"c":10500,"v":1},{"z":6,"a":7.75,"b":8,"c":10500,"v":1},{"z":6,"a":8,"b":8.5,"c":10500,"v":4},{"z":6,"a":8.5,"b":8.75,"c":10500,"v":2},
{"z":6,"a":5,"b":6,"c":11500,"v":1},{"z":6,"a":6,"b":7,"c":11500,"v":2},{"z":6,"a":7,"b":7.5,"c":11500,"v":1},{"z":6,"a":8,"b":8.5,"c":11500,"v":2},{"z":6,"a":5.75,"b":6,"c":12500,"v":2},{"z":6,"a":6,"b":6.75,"c":12500,"v":1},{"z":6,"a":5.75,"b":6,"c":13500,"v":1},
{"z":1,"m":0,"h":0},{"z":1,"m":3,"h":0},{"z":1,"m":3.5,"h":0},{"z":1,"m":4,"h":1},{"z":1,"m":4.5,"h":18},{"z":1,"m":5,"h":72},{"z":1,"m":5.5,"h":78},{"z":1,"m":6,"h":53},{"z":1,"m":6.5,"h":98},{"z":1,"m":6.75,"h":110},{"z":1,"m":7,"h":105},{"z":1,"m":7.5,"h":52},{"z":1,"m":8,"h":20},{"z":1,"m":8.5,"h":10},{"z":1,"m":9,"h":3},{"z":1,"m":10,"h":0},{"z":1,"m":12,"h":0},
{"z":2,"m":0,"h":0},{"z":2,"m":1,"h":1},{"z":2,"m":2,"h":6},{"z":2,"m":3,"h":15},{"z":2,"m":4,"h":35},{"z":2,"m":5,"h":70},{"z":2,"m":5.5,"h":74},{"z":2,"m":6,"h":77},{"z":2,"m":6.5,"h":105},{"z":2,"m":6.75,"h":110},{"z":2,"m":7,"h":100},{"z":2,"m":7.5,"h":47},{"z":2,"m":8,"h":25},{"z":2,"m":8.5,"h":27},{"z":2,"m":9,"h":17},{"z":2,"m":10,"h":9},{"z":2,"m":10.5,"h":12},{"z":2,"m":11,"h":5},{"z":2,"m":12,"h":0},
{"z":3,"m":0,"h":12},{"z":3,"m":0.5,"h":18},{"z":3,"m":1,"h":30},{"z":3,"m":1.5,"h":15},{"z":3,"m":2,"h":6},{"z":3,"m":2.5,"h":14},{"z":3,"m":3,"h":40},{"z":3,"m":3.5,"h":65},{"z":3,"m":4,"h":60},{"z":3,"m":4.5,"h":80},{"z":3,"m":5,"h":70},{"z":3,"m":5.5,"h":70},{"z":3,"m":6,"h":108},{"z":3,"m":6.5,"h":75},{"z":3,"m":7,"h":40},{"z":3,"m":8,"h":37},{"z":3,"m":8.5,"h":42},{"z":3,"m":9,"h":65},{"z":3,"m":9.5,"h":60},{"z":3,"m":10,"h":55},{"z":3,"m":10.5,"h":38},{"z":3,"m":11,"h":18},{"z":3,"m":11.5,"h":13},{"z":3,"m":12,"h":12},
{"z":4,"m":0,"h":22},{"z":4,"m":0.5,"h":48},{"z":4,"m":1,"h":57},{"z":4,"m":1.5,"h":62},{"z":4,"m":2,"h":100},{"z":4,"m":2.5,"h":108},{"z":4,"m":3,"h":97},{"z":4,"m":3.5,"h":105},{"z":4,"m":4,"h":60},{"z":4,"m":4.5,"h":47},{"z":4,"m":5,"h":55},{"z":4,"m":5.5,"h":83},{"z":4,"m":6,"h":65},{"z":4,"m":6.5,"h":50},{"z":4,"m":7,"h":30},{"z":4,"m":7.5,"h":20},{"z":4,"m":8,"h":12},{"z":4,"m":8.5,"h":14},{"z":4,"m":9,"h":24},{"z":4,"m":9.5,"h":25},{"z":4,"m":10,"h":24},{"z":4,"m":10.5,"h":21},{"z":4,"m":11,"h":18},{"z":4,"m":11.5,"h":15},{"z":4,"m":12,"h":20},
{"z":5,"m":0,"h":72},{"z":5,"m":0.25,"h":78},{"z":5,"m":0.5,"h":50},{"z":5,"m":1,"h":10},{"z":5,"m":1.5,"h":4},{"z":5,"m":2,"h":28},{"z":5,"m":2.5,"h":75},{"z":5,"m":3,"h":87},{"z":5,"m":3.5,"h":108},{"z":5,"m":4,"h":60},{"z":5,"m":4.5,"h":22},{"z":5,"m":5,"h":38},{"z":5,"m":5.5,"h":48},{"z":5,"m":6,"h":28},{"z":5,"m":6.5,"h":8},{"z":5,"m":7,"h":2},{"z":5,"m":8,"h":0},{"z":5,"m":11,"h":0},{"z":5,"m":11.5,"h":10},{"z":5,"m":12,"h":70},
{"z":6,"m":0,"h":23},{"z":6,"m":0.5,"h":35},{"z":6,"m":1,"h":40},{"z":6,"m":1.5,"h":25},{"z":6,"m":2,"h":45},{"z":6,"m":2.5,"h":68},{"z":6,"m":3,"h":50},{"z":6,"m":3.5,"h":82},{"z":6,"m":4,"h":58},{"z":6,"m":4.5,"h":62},{"z":6,"m":5,"h":65},{"z":6,"m":5.5,"h":108},{"z":6,"m":6,"h":101},{"z":6,"m":6.5,"h":108},{"z":6,"m":7,"h":93},{"z":6,"m":7.5,"h":35},{"z":6,"m":8,"h":28},{"z":6,"m":9,"h":35},{"z":6,"m":10,"h":23},{"z":6,"m":11,"h":13},{"z":6,"m":11.5,"h":11},{"z":6,"m":12,"h":18},
{"z":1,"e":0,"w":58},{"z":1,"e":500,"w":60},{"z":1,"e":1000,"w":83},{"z":1,"e":1500,"w":103},{"z":1,"e":2000,"w":120},{"z":1,"e":2500,"w":98},{"z":1,"e":3000,"w":78},{"z":1,"e":3500,"w":58},{"z":1,"e":4000,"w":33},{"z":1,"e":5000,"w":15},{"z":1,"e":6000,"w":8},{"z":1,"e":7000,"w":0},
{"z":2,"e":0,"w":71},{"z":2,"e":500,"w":78},{"z":2,"e":1000,"w":100},{"z":2,"e":1500,"w":120},{"z":2,"e":2000,"w":108},{"z":2,"e":2500,"w":78},{"z":2,"e":3000,"w":60},{"z":2,"e":3500,"w":33},{"z":2,"e":4000,"w":25},{"z":2,"e":5000,"w":23},{"z":2,"e":6000,"w":28},{"z":2,"e":7000,"w":30},{"z":2,"e":8000,"w":25},{"z":2,"e":9000,"w":10},{"z":2,"e":10000,"w":6},{"z":2,"e":11000,"w":5},{"z":2,"e":12000,"w":4},{"z":2,"e":13000,"w":1},{"z":2,"e":14000,"w":0},
{"z":3,"e":0,"w":103},{"z":3,"e":500,"w":110},{"z":3,"e":1000,"w":118},{"z":3,"e":1500,"w":108},{"z":3,"e":2000,"w":80},{"z":3,"e":2500,"w":55},{"z":3,"e":3000,"w":25},{"z":3,"e":3500,"w":15},{"z":3,"e":4000,"w":18},{"z":3,"e":5000,"w":28},{"z":3,"e":6000,"w":44},{"z":3,"e":6500,"w":46},{"z":3,"e":7000,"w":40},{"z":3,"e":8000,"w":28},{"z":3,"e":9000,"w":10},{"z":3,"e":10000,"w":8},{"z":3,"e":11000,"w":12},{"z":3,"e":12000,"w":14},{"z":3,"e":13000,"w":5},{"z":3,"e":14000,"w":3},
{"z":4,"e":0,"w":83},{"z":4,"e":500,"w":88},{"z":4,"e":1000,"w":105},{"z":4,"e":1500,"w":118},{"z":4,"e":2000,"w":110},{"z":4,"e":3000,"w":85},{"z":4,"e":3500,"w":75},{"z":4,"e":4000,"w":72},{"z":4,"e":4500,"w":80},{"z":4,"e":5000,"w":85},{"z":4,"e":5500,"w":85},{"z":4,"e":6000,"w":75},{"z":4,"e":7000,"w":55},{"z":4,"e":8000,"w":30},{"z":4,"e":9000,"w":20},{"z":4,"e":10000,"w":12},{"z":4,"e":11000,"w":8},{"z":4,"e":12000,"w":2},{"z":4,"e":13000,"w":0},
{"z":5,"e":0,"w":91},{"z":5,"e":500,"w":75},{"z":5,"e":1000,"w":62},{"z":5,"e":1500,"w":60},{"z":5,"e":2000,"w":68},{"z":5,"e":2500,"w":80},{"z":5,"e":3000,"w":100},{"z":5,"e":3500,"w":108},{"z":5,"e":4000,"w":118},{"z":5,"e":4500,"w":120},{"z":5,"e":5000,"w":115},{"z":5,"e":5500,"w":95},{"z":5,"e":6000,"w":75},{"z":5,"e":7000,"w":35},{"z":5,"e":8000,"w":1},{"z":5,"e":9000,"w":0},
{"z":6,"e":0,"w":51},{"z":6,"e":500,"w":55},{"z":6,"e":1000,"w":90},{"z":6,"e":1500,"w":120},{"z":6,"e":2000,"w":100},{"z":6,"e":2500,"w":75},{"z":6,"e":3000,"w":52},{"z":6,"e":3500,"w":48},{"z":6,"e":4000,"w":48},{"z":6,"e":5000,"w":48},{"z":6,"e":6000,"w":48},{"z":6,"e":7000,"w":42},{"z":6,"e":8000,"w":20},{"z":6,"e":9000,"w":10},{"z":6,"e":10000,"w":6},{"z":6,"e":11000,"w":4},{"z":6,"e":12000,"w":2},{"z":6,"e":13000,"w":0}
]},
"vconcat":[
{"data":{"name":"zones"},"facet":{"field":"z","type":"ordinal","header":{"title":null,"labels":false,"labelFontSize":0,"labelPadding":0,"titlePadding":0,"labelExpr":"''"}},"columns":2,"spacing":0,"bounds":"flush","resolve":{"scale":{"x":"independent","y":"independent"},"axis":{"x":"independent","y":"independent"}},
"spec":{"width":400,"height":197,"resolve":{"scale":{"x":"independent","y":"independent"},"axis":{"x":"independent","y":"independent"}},"layer":[
{"transform":[{"filter":"isValid(datum.t)"}],"mark":{"type":"rect","color":"#FFFFFF"},"encoding":{"x":{"datum":0,"type":"quantitative","axis":null,"scale":{"domain":[0,12],"range":[46.5,346.5],"nice":false,"zero":false}},"x2":{"datum":12},"y":{"datum":0,"type":"quantitative","axis":null,"scale":{"domain":[0,14000],"range":[155.3,29.3],"nice":false,"zero":false}},"y2":{"datum":14000}}},
{"transform":[{"filter":"isValid(datum.a)"}],"mark":{"type":"rect","height":9},"encoding":{
"x":{"field":"a","type":"quantitative","scale":{"domain":[0,12],"range":[46.5,346.5],"nice":false,"zero":false},"axis":{"orient":"top","title":null,"offset":-28,"values":[0.5,1.5,2.5,3.5,4.5,5.5,6.5,7.5,8.5,9.5,10.5,11.5],"labelExpr":"['Jan','Feb','Mar','Apr','May','Jun','Jul','Aug','Sep','Oct','Nov','Dec'][floor(datum.value)]","domain":false,"ticks":false,"labelPadding":1,"labelOverlap":false,"grid":false}},
"x2":{"field":"b"},
"y":{"field":"c","type":"quantitative","scale":{"domain":[0,14000],"range":[155.3,29.3],"nice":false,"zero":false},"axis":{"orient":"left","title":null,"values":[0,2000,4000,6000,8000,10000,12000,14000],"labels":false,"domain":false,"ticks":false,"grid":true,"gridColor":"#000","gridOpacity":1,"gridWidth":1,"zindex":1}},
"color":{"field":"v","type":"ordinal","legend":null,"scale":{"domain":[1,2,3,4,5,6,7,8,9,10,11,12],"range":["#E0FFFF","#BFFFFF","#99ECEC","#70D8D8","#50B8D0","#3590D0","#0F60D0","#0030E0","#3000F0","#8000E8","#C000C0","#F00080"]}}}},
{"transform":[{"filter":"isValid(datum.a)"}],"mark":{"type":"point","opacity":0},"encoding":{
"x":{"field":"a","type":"quantitative","scale":{"domain":[0,12],"range":[46.5,346.5],"nice":false,"zero":false},"axis":{"orient":"top","title":null,"values":[0,1,2,3,4,5,6,7,8,9,10,11,12],"labels":false,"domain":false,"ticks":false,"grid":true,"gridColor":"#000","gridOpacity":1,"gridWidth":1,"zindex":1}},
"y":{"field":"c","type":"quantitative","scale":{"domain":[0,14000],"range":[155.3,29.3],"nice":false,"zero":false},"axis":{"orient":"left","title":null,"values":[1000,3000,5000,7000,9000,11000,13000],"labels":false,"domain":false,"ticks":false,"grid":true,"gridColor":"#444","gridDash":[1,2],"gridOpacity":1,"gridWidth":1,"zindex":1}}}},
{"transform":[{"filter":"isValid(datum.t)"}],"mark":{"type":"text","fontWeight":"bold","fontSize":12,"font":"Liberation Sans","color":"#000"},"encoding":{"text":{"field":"t"},
"x":{"datum":6,"type":"quantitative","axis":null,"scale":{"domain":[0,12],"range":[46.5,346.5],"nice":false,"zero":false}},
"y":{"datum":16350,"type":"quantitative","axis":null,"scale":{"domain":[0,14000],"range":[155.3,29.3],"nice":false,"zero":false}}}},
{"transform":[{"filter":"isValid(datum.m)"}],"mark":{"type":"area","color":"#8F47C9","interpolate":"monotone"},"encoding":{"x":{"field":"m","type":"quantitative","axis":null,"scale":{"domain":[0,12],"range":[46.5,346.5],"nice":false,"zero":false}},"y":{"field":"h","type":"quantitative","axis":null,"stack":null,"scale":{"domain":[0,110],"range":[196,159],"nice":false}}}},
{"transform":[{"filter":"isValid(datum.m) && datum.m==floor(datum.m) && datum.m>0 && datum.m<12"}],"mark":{"type":"rule","color":"#5F3A80"},"encoding":{"x":{"field":"m","type":"quantitative","axis":null,"scale":{"domain":[0,12],"range":[46.5,346.5],"nice":false,"zero":false}},"y":{"field":"h","type":"quantitative","axis":null,"scale":{"domain":[0,110],"range":[196,159],"nice":false}},"y2":{"datum":0}}},
{"transform":[{"filter":"isValid(datum.t)"}],"mark":{"type":"rule","color":"#777","strokeWidth":1.5},"encoding":{"x":{"datum":0,"type":"quantitative","axis":null,"scale":{"domain":[0,12],"range":[46.5,346.5],"nice":false,"zero":false}},"x2":{"datum":12},"y":{"datum":1.5,"type":"quantitative","axis":null,"scale":{"domain":[0,110],"range":[196,159],"nice":false}}}},
{"transform":[{"filter":"isValid(datum.e)"}],"mark":{"type":"area","orient":"horizontal","color":"#8F47C9","interpolate":"monotone"},"encoding":{"y":{"field":"e","type":"quantitative","scale":{"domain":[0,14000],"range":[155.3,29.3],"nice":false,"zero":false},"axis":{"orient":"right","title":null,"offset":-50,"values":[0,2000,4000,6000,8000,10000,12000,14000],"labelExpr":"datum.value>0 ? floor(datum.value/1000)+',000' : '0'","domain":false,"ticks":false,"labelPadding":-1,"labelOverlap":false,"grid":false}},"x":{"field":"w","type":"quantitative","axis":null,"stack":null,"scale":{"domain":[0,120],"range":[43.8,3.8],"nice":false}}}},
{"transform":[{"filter":"isValid(datum.e) && datum.e%2000==0 && datum.e>0"}],"mark":{"type":"rule","color":"#5F3A80"},"encoding":{"y":{"field":"e","type":"quantitative","axis":null,"scale":{"domain":[0,14000],"range":[155.3,29.3],"nice":false,"zero":false}},"x":{"field":"w","type":"quantitative","axis":null,"scale":{"domain":[0,120],"range":[43.8,3.8],"nice":false}},"x2":{"datum":0}}},
{"transform":[{"filter":"isValid(datum.t)"}],"mark":{"type":"rule","color":"#777","strokeWidth":1.5},"encoding":{"x":{"datum":0,"type":"quantitative","axis":null,"scale":{"domain":[0,120],"range":[43.8,3.8],"nice":false}},"y":{"datum":0,"type":"quantitative","axis":null,"scale":{"domain":[0,14000],"range":[155.3,29.3],"nice":false,"zero":false}},"y2":{"datum":14000}}}
]}},
{"width":800,"height":108,"layer":[
{"data":{"values":[{"x":288,"x2":873,"y":17,"y2":318}]},"mark":{"type":"rect","color":"#9AB3CE"},"encoding":{"x":{"field":"x","type":"quantitative","axis":null,"scale":{"domain":[0,2400],"nice":false,"zero":false}},"x2":{"field":"x2"},"y":{"field":"y","type":"quantitative","axis":null,"scale":{"domain":[6,330],"range":[0,108],"nice":false,"zero":false}},"y2":{"field":"y2"}}},
{"data":{"values":[{"o":1,"x":288,"y":17},{"o":2,"x":700,"y":17},{"o":3,"x":705,"y":25},{"o":4,"x":712,"y":17},{"o":5,"x":873,"y":17},{"o":6,"x":873,"y":92},{"o":7,"x":845,"y":85},{"o":8,"x":860,"y":60},{"o":9,"x":800,"y":58},{"o":10,"x":785,"y":80},{"o":11,"x":810,"y":100},{"o":12,"x":780,"y":130},{"o":13,"x":760,"y":152},{"o":14,"x":745,"y":170},{"o":15,"x":740,"y":210},{"o":16,"x":705,"y":235},{"o":17,"x":690,"y":255},{"o":18,"x":705,"y":308},{"o":19,"x":695,"y":315},{"o":20,"x":680,"y":268},{"o":21,"x":650,"y":262},{"o":22,"x":600,"y":262},{"o":23,"x":555,"y":285},{"o":24,"x":555,"y":318},{"o":25,"x":450,"y":318},{"o":26,"x":405,"y":258},{"o":27,"x":430,"y":318},{"o":28,"x":415,"y":318},{"o":29,"x":395,"y":258},{"o":30,"x":375,"y":245},{"o":31,"x":345,"y":210},{"o":32,"x":330,"y":170},{"o":33,"x":318,"y":130},{"o":34,"x":322,"y":90},{"o":35,"x":330,"y":65},{"o":36,"x":288,"y":35}]},"mark":{"type":"line","fill":"#FFFFFF","stroke":"#E8E8E8","strokeWidth":1},"encoding":{"order":{"field":"o"},"x":{"field":"x","type":"quantitative","axis":null,"scale":{"domain":[0,2400],"nice":false,"zero":false}},"y":{"field":"y","type":"quantitative","axis":null,"scale":{"domain":[6,330],"range":[0,108],"nice":false,"zero":false}}}},
{"data":{"values":[{"g":1,"o":1,"x":335,"y":60},{"g":1,"o":2,"x":600,"y":60},{"g":2,"o":1,"x":445,"y":17},{"g":2,"o":2,"x":445,"y":60},{"g":3,"o":1,"x":517,"y":17},{"g":3,"o":2,"x":517,"y":60},{"g":4,"o":1,"x":571,"y":17},{"g":4,"o":2,"x":571,"y":60},{"g":5,"o":1,"x":390,"y":60},{"g":5,"o":2,"x":390,"y":100},{"g":5,"o":3,"x":435,"y":150},{"g":5,"o":4,"x":435,"y":172},{"g":6,"o":1,"x":435,"y":110},{"g":6,"o":2,"x":497,"y":110},{"g":6,"o":3,"x":497,"y":172},{"g":6,"o":4,"x":435,"y":172},{"g":6,"o":5,"x":435,"y":110},{"g":7,"o":1,"x":497,"y":60},{"g":7,"o":2,"x":497,"y":110},{"g":8,"o":1,"x":497,"y":95},{"g":8,"o":2,"x":570,"y":95},{"g":9,"o":1,"x":497,"y":135},{"g":9,"o":2,"x":580,"y":135},{"g":10,"o":1,"x":452,"y":155},{"g":10,"o":2,"x":510,"y":155},{"g":10,"o":3,"x":510,"y":270},{"g":11,"o":1,"x":452,"y":155},{"g":11,"o":2,"x":452,"y":270},{"g":12,"o":1,"x":345,"y":150},{"g":12,"o":2,"x":435,"y":150},{"g":13,"o":1,"x":345,"y":150},{"g":13,"o":2,"x":345,"y":180},{"g":13,"o":3,"x":405,"y":245},{"g":13,"o":4,"x":405,"y":258},{"g":14,"o":1,"x":452,"y":215},{"g":14,"o":2,"x":570,"y":215},{"g":14,"o":3,"x":570,"y":260},{"g":15,"o":1,"x":510,"y":180},{"g":15,"o":2,"x":585,"y":180},{"g":16,"o":1,"x":610,"y":90},{"g":16,"o":2,"x":630,"y":150},{"g":16,"o":3,"x":625,"y":215},{"g":16,"o":4,"x":610,"y":260},{"g":17,"o":1,"x":625,"y":215},{"g":17,"o":2,"x":690,"y":190},{"g":17,"o":3,"x":745,"y":170},{"g":18,"o":1,"x":610,"y":215},{"g":18,"o":2,"x":725,"y":205},{"g":19,"o":1,"x":630,"y":215},{"g":19,"o":2,"x":630,"y":258},{"g":20,"o":1,"x":655,"y":215},{"g":20,"o":2,"x":660,"y":258},{"g":21,"o":1,"x":680,"y":212},{"g":21,"o":2,"x":690,"y":255},{"g":22,"o":1,"x":670,"y":155},{"g":22,"o":2,"x":670,"y":195},{"g":23,"o":1,"x":700,"y":155},{"g":23,"o":2,"x":745,"y":150},{"g":24,"o":1,"x":765,"y":120},{"g":24,"o":2,"x":765,"y":150},{"g":25,"o":1,"x":585,"y":135},{"g":25,"o":2,"x":630,"y":135},{"g":26,"o":1,"x":570,"y":60},{"g":26,"o":2,"x":580,"y":135},{"g":26,"o":3,"x":585,"y":180},{"g":26,"o":4,"x":590,"y":215}]},"mark":{"type":"line","color":"#C8C8C8","strokeWidth":1},"encoding":{"detail":{"field":"g"},"order":{"field":"o"},"x":{"field":"x","type":"quantitative","axis":null,"scale":{"domain":[0,2400],"nice":false,"zero":false}},"y":{"field":"y","type":"quantitative","axis":null,"scale":{"domain":[6,330],"range":[0,108],"nice":false,"zero":false}}}},
{"data":{"values":[{"g":1,"o":1,"x":592,"y":85},{"g":1,"o":2,"x":625,"y":62},{"g":1,"o":3,"x":655,"y":62},{"g":1,"o":4,"x":650,"y":72},{"g":1,"o":5,"x":620,"y":75},{"g":2,"o":1,"x":640,"y":92},{"g":2,"o":2,"x":648,"y":90},{"g":2,"o":3,"x":652,"y":140},{"g":2,"o":4,"x":638,"y":142},{"g":3,"o":1,"x":660,"y":88},{"g":3,"o":2,"x":700,"y":90},{"g":3,"o":3,"x":690,"y":130},{"g":3,"o":4,"x":675,"y":105},{"g":4,"o":1,"x":680,"y":150},{"g":4,"o":2,"x":720,"y":130},{"g":4,"o":3,"x":722,"y":138},{"g":4,"o":4,"x":690,"y":152},{"g":5,"o":1,"x":705,"y":122},{"g":5,"o":2,"x":750,"y":108},{"g":5,"o":3,"x":750,"y":116},{"g":5,"o":4,"x":712,"y":128}]},"mark":{"type":"line","fill":"#9AB3CE","stroke":"#9AB3CE","strokeWidth":1},"encoding":{"detail":{"field":"g"},"order":{"field":"o"},"x":{"field":"x","type":"quantitative","axis":null,"scale":{"domain":[0,2400],"nice":false,"zero":false}},"y":{"field":"y","type":"quantitative","axis":null,"scale":{"domain":[6,330],"range":[0,108],"nice":false,"zero":false}}}},
{"data":{"values":[{"x":288,"x2":873,"y":70},{"x":288,"x2":873,"y":142},{"x":288,"x2":873,"y":200},{"x":288,"x2":873,"y":259}]},"mark":{"type":"rule","color":"#000","strokeWidth":1},"encoding":{"x":{"field":"x","type":"quantitative","axis":null,"scale":{"domain":[0,2400],"nice":false,"zero":false}},"x2":{"field":"x2"},"y":{"field":"y","type":"quantitative","axis":null,"scale":{"domain":[6,330],"range":[0,108],"nice":false,"zero":false}}}},
{"data":{"values":[{"t":"ZONE 1","x":250,"y":46},{"t":"ZONE 2","x":250,"y":105},{"t":"ZONE 3","x":250,"y":172},{"t":"ZONE 4","x":250,"y":229},{"t":"ZONE 5","x":250,"y":289}]},"mark":{"type":"text","align":"right","fontWeight":"bold","fontSize":12,"font":"Liberation Sans","color":"#000"},"encoding":{"text":{"field":"t"},"x":{"field":"x","type":"quantitative","axis":null,"scale":{"domain":[0,2400],"nice":false,"zero":false}},"y":{"field":"y","type":"quantitative","axis":null,"scale":{"domain":[6,330],"range":[0,108],"nice":false,"zero":false}}}}
]}
]}
